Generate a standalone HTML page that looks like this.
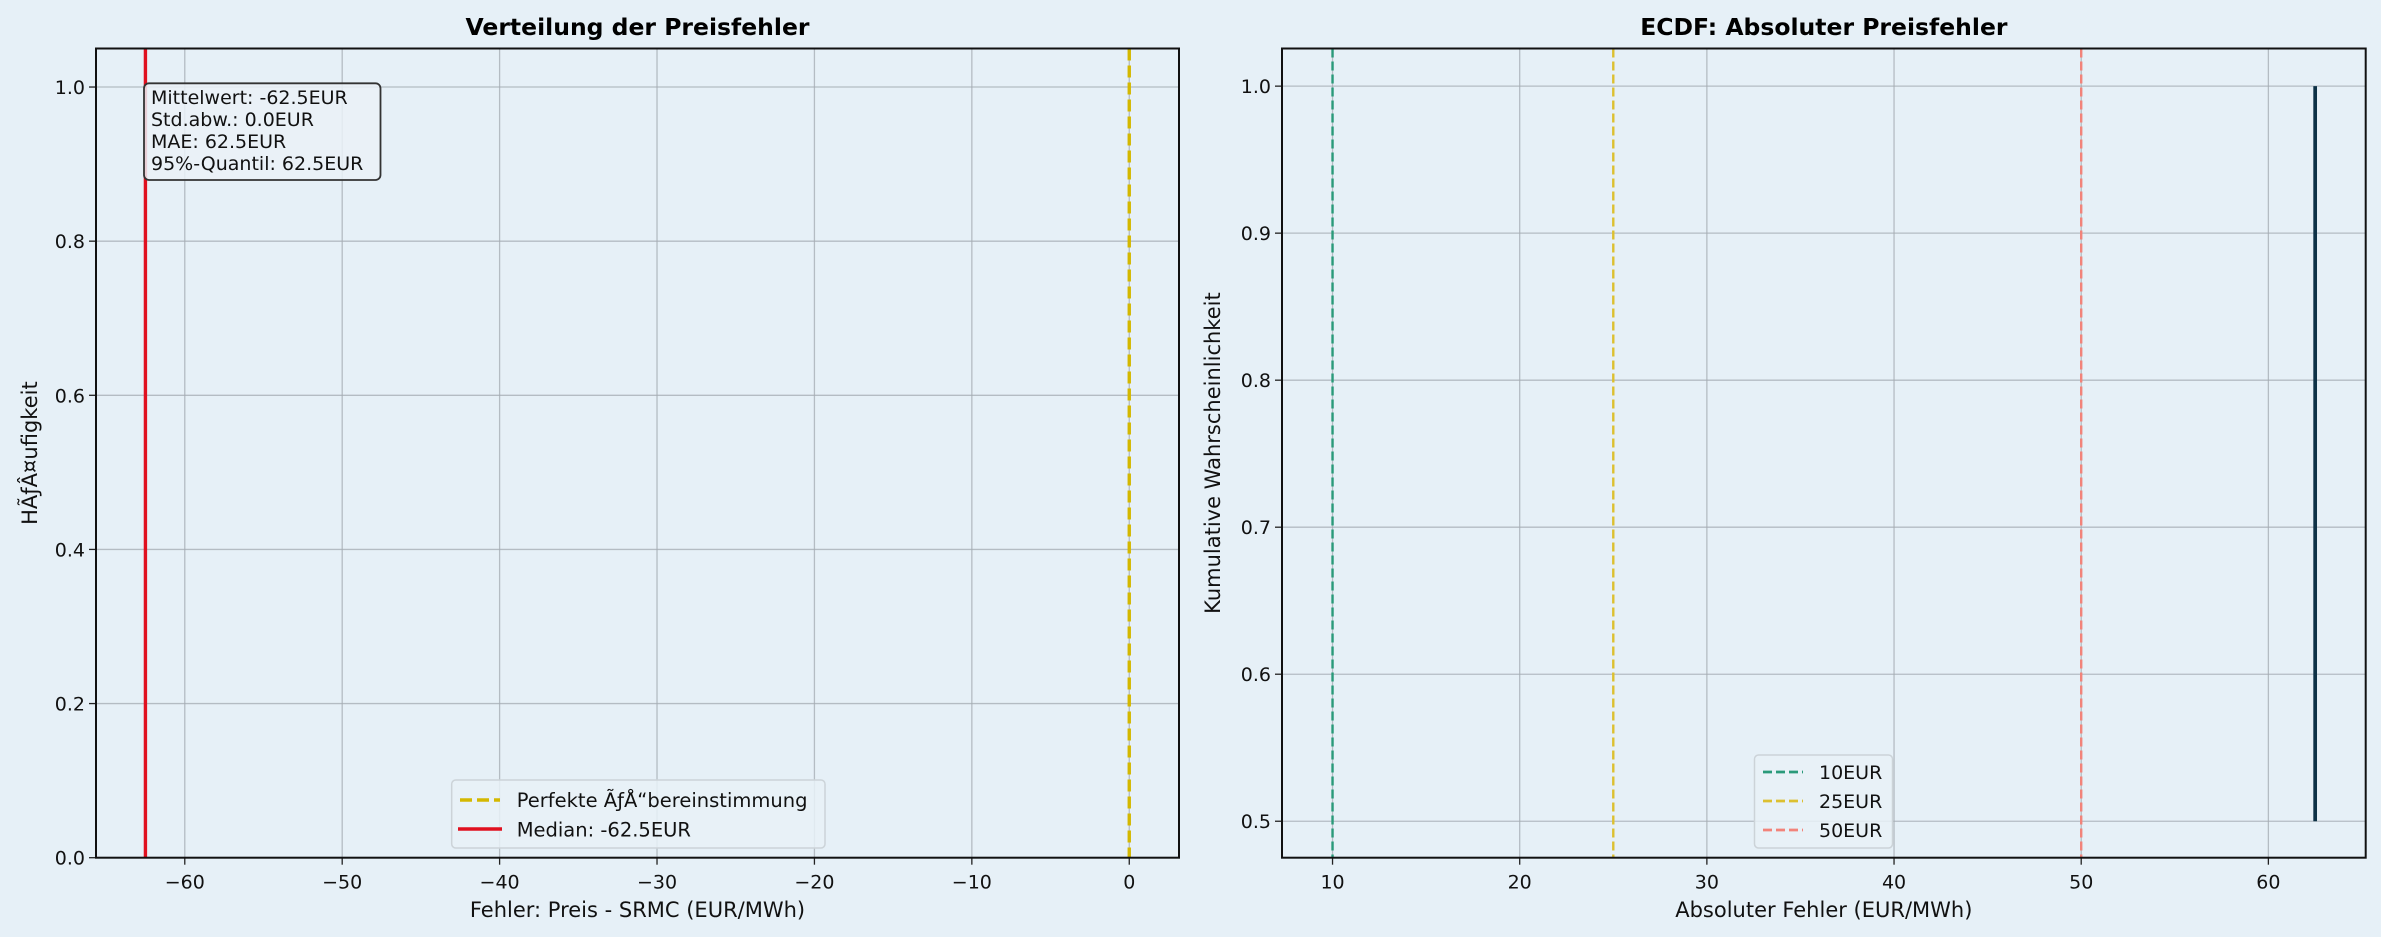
<!DOCTYPE html>
<html><head><meta charset="utf-8"><style>
html,body{margin:0;padding:0;background:#e6f0f7;}
svg{display:block;font-family:"DejaVu Sans","Liberation Sans",sans-serif;}
</style></head><body>
<svg id="fig" width="2381" height="937" viewBox="0 0 2381 937" xmlns="http://www.w3.org/2000/svg">
<rect x="0" y="0" width="2381" height="937" fill="#e6f0f7"/>
<g id="left"></g>
<g id="right"></g>
</svg>
<script>
// Left chart data
const leftXTicks = [-60, -50, -40, -30, -20, -10, 0];
const leftXTickLabels = ["\u221260", "\u221250", "\u221240", "\u221230", "\u221220", "\u221210", "0"];
const leftYTicks = [0.0, 0.2, 0.4, 0.6, 0.8, 1.0];
const leftYTickLabels = ["0.0", "0.2", "0.4", "0.6", "0.8", "1.0"];
const medianValue = [-62.5];
const perfectValue = [0];
const statsLines = ["Mittelwert: -62.5EUR", "Std.abw.: 0.0EUR", "MAE: 62.5EUR", "95%-Quantil: 62.5EUR"];
// Right chart data
const rightXTicks = [10, 20, 30, 40, 50, 60];
const rightXTickLabels = ["10", "20", "30", "40", "50", "60"];
const rightYTicks = [0.5, 0.6, 0.7, 0.8, 0.9, 1.0];
const rightYTickLabels = ["0.5", "0.6", "0.7", "0.8", "0.9", "1.0"];
const thresholds = [10, 25, 50];
const thresholdLabels = ["10EUR", "25EUR", "50EUR"];
const ecdfX = [62.5, 62.5];
const ecdfY = [0.5, 1.0];

const NS = "http://www.w3.org/2000/svg";
function mk(parent, tag, attrs, text) {
  const e = document.createElementNS(NS, tag);
  for (const k in attrs) e.setAttribute(k, attrs[k]);
  if (text !== undefined) e.textContent = text;
  parent.appendChild(e);
  return e;
}
function scale(d0, d1, r0, r1) { return v => r0 + (v - d0) / (d1 - d0) * (r1 - r0); }

function axes(g, box, xs, ys, xt, xtl, yt, ytl, title, xlabel, ylabel, ylx) {
  let e;
  e = mk(g, "rect", {x: box.l, y: box.t, width: box.r - box.l, height: box.b - box.t, fill: "#e6f0f7"});
  
  
  xt.forEach((v, i) => {
    const x = xs(v);
    e = mk(g, "line", {x1: x, x2: x, y1: box.t, y2: box.b, stroke: "#a4abb2", "stroke-width": 1.3, opacity: 0.75});
    
    
    mk(g, "line", {x1: x, x2: x, y1: box.b, y2: box.b + 7, stroke: "#222", "stroke-width": 1.3});
    e = mk(g, "text", {x: x, y: box.b + 31, "text-anchor": "middle", "font-size": 19, fill: "#111"}, xtl[i]);
    
    
  });
  yt.forEach((v, i) => {
    const y = ys(v);
    e = mk(g, "line", {x1: box.l, x2: box.r, y1: y, y2: y, stroke: "#a4abb2", "stroke-width": 1.3, opacity: 0.75});
    
    
    mk(g, "line", {x1: box.l - 7, x2: box.l, y1: y, y2: y, stroke: "#222", "stroke-width": 1.3});
    e = mk(g, "text", {x: box.l - 11, y: y + 7, "text-anchor": "end", "font-size": 19, fill: "#111"}, ytl[i]);
    
    
  });
  e = mk(g, "text", {x: (box.l + box.r) / 2, y: 35, "text-anchor": "middle", "font-size": 23.5, "font-weight": "bold", fill: "#000"}, title);
  
  
  e = mk(g, "text", {x: (box.l + box.r) / 2, y: 917, "text-anchor": "middle", "font-size": 21, fill: "#111"}, xlabel);
  
  
  const cy = (box.t + box.b) / 2;
  e = mk(g, "text", {x: ylx, y: cy, "text-anchor": "middle", "font-size": 21, fill: "#111", transform: `rotate(-90 ${ylx} ${cy})`}, ylabel);
  
  
}
function frame(g, box) {
  const e = mk(g, "rect", {x: box.l, y: box.t, width: box.r - box.l, height: box.b - box.t, fill: "none", stroke: "#111", "stroke-width": 2});
  
  
}

// LEFT
(function(){
  const g = document.getElementById("left");
  const box = {l: 96, r: 1179, t: 48.5, b: 857.7};
  const xs = scale(-65.64, 3.16, box.l, box.r);
  const ys = scale(0, 1.05, box.b, box.t);
  axes(g, box, xs, ys, leftXTicks, leftXTickLabels, leftYTicks, leftYTickLabels,
       "Verteilung der Preisfehler", "Fehler: Preis - SRMC (EUR/MWh)", "H\u00c3\u0192\u00c2\u00a4ufigkeit", 37);
  let e;
  e = mk(g, "line", {x1: xs(perfectValue[0]), x2: xs(perfectValue[0]), y1: box.t, y2: box.b, stroke: "#d4b800", "stroke-width": 3.4, "stroke-dasharray": "12,5"});
  
  
  e = mk(g, "line", {x1: xs(medianValue[0]), x2: xs(medianValue[0]), y1: box.t, y2: box.b, stroke: "#e0101f", "stroke-width": 3.4});
  
  
  frame(g, box);
  e = mk(g, "rect", {x: 144, y: 83.3, width: 236.5, height: 96.7, rx: 5, fill: "#eaf1f7", "fill-opacity": 0.85, stroke: "#333", "stroke-width": 1.8});
  
  
  statsLines.forEach((s, i) => {
    e = mk(g, "text", {x: 151, y: 104 + i * 22, "font-size": 19, fill: "#111"}, s);
    
    
  });
  const lg = mk(g, "g", {});
  
  
  mk(lg, "rect", {x: 451.7, y: 780, width: 373.3, height: 68, rx: 4, fill: "#e8f1f7", "fill-opacity": 0.85, stroke: "#ccd3d8", "stroke-width": 1.5});
  mk(lg, "line", {x1: 460, x2: 500, y1: 800, y2: 800, stroke: "#d4b800", "stroke-width": 3.4, "stroke-dasharray": "12,5"});
  e = mk(lg, "text", {x: 516.7, y: 807, "font-size": 19.5, fill: "#111"}, "Perfekte \u00c3\u0192\u00c5\u201cbereinstimmung");
  
  
  mk(lg, "line", {x1: 458, x2: 502, y1: 829, y2: 829, stroke: "#e0101f", "stroke-width": 3.4});
  e = mk(lg, "text", {x: 516.7, y: 836.5, "font-size": 19.5, fill: "#111"}, "Median: -62.5EUR");
  
  
})();

// RIGHT
(function(){
  const g = document.getElementById("right");
  const box = {l: 1282, r: 2365.7, t: 48.5, b: 857.7};
  const xs = scale(7.3, 65.2, box.l, box.r);
  const ys = scale(0.4752, 1.0256, box.b, box.t);
  axes(g, box, xs, ys, rightXTicks, rightXTickLabels, rightYTicks, rightYTickLabels,
       "ECDF: Absoluter Preisfehler", "Absoluter Fehler (EUR/MWh)", "Kumulative Wahrscheinlichkeit", 1220);
  const colors = ["#2a9a7a", "#dcc030", "#f2837a"];
  let e;
  thresholds.forEach((t, i) => {
    e = mk(g, "line", {x1: xs(t), x2: xs(t), y1: box.t, y2: box.b, stroke: colors[i], "stroke-width": 2.4, "stroke-dasharray": "9,4"});
    
    
  });
  e = mk(g, "line", {x1: xs(ecdfX[0]), x2: xs(ecdfX[1]), y1: ys(ecdfY[0]), y2: ys(ecdfY[1]), stroke: "#0d3146", "stroke-width": 3.7});
  
  
  frame(g, box);
  const lg = mk(g, "g", {});
  
  
  mk(lg, "rect", {x: 1754.5, y: 755, width: 138, height: 93, rx: 4, fill: "#e8f1f7", "fill-opacity": 0.85, stroke: "#ccd3d8", "stroke-width": 1.5});
  thresholdLabels.forEach((s, i) => {
    const y = 772 + i * 29;
    mk(lg, "line", {x1: 1763, x2: 1803, y1: y, y2: y, stroke: colors[i], "stroke-width": 2.8, "stroke-dasharray": "9,4"});
    e = mk(lg, "text", {x: 1819, y: y + 7, "font-size": 19, fill: "#111"}, s);
    
    
  });
})();
</script>
</body></html>
